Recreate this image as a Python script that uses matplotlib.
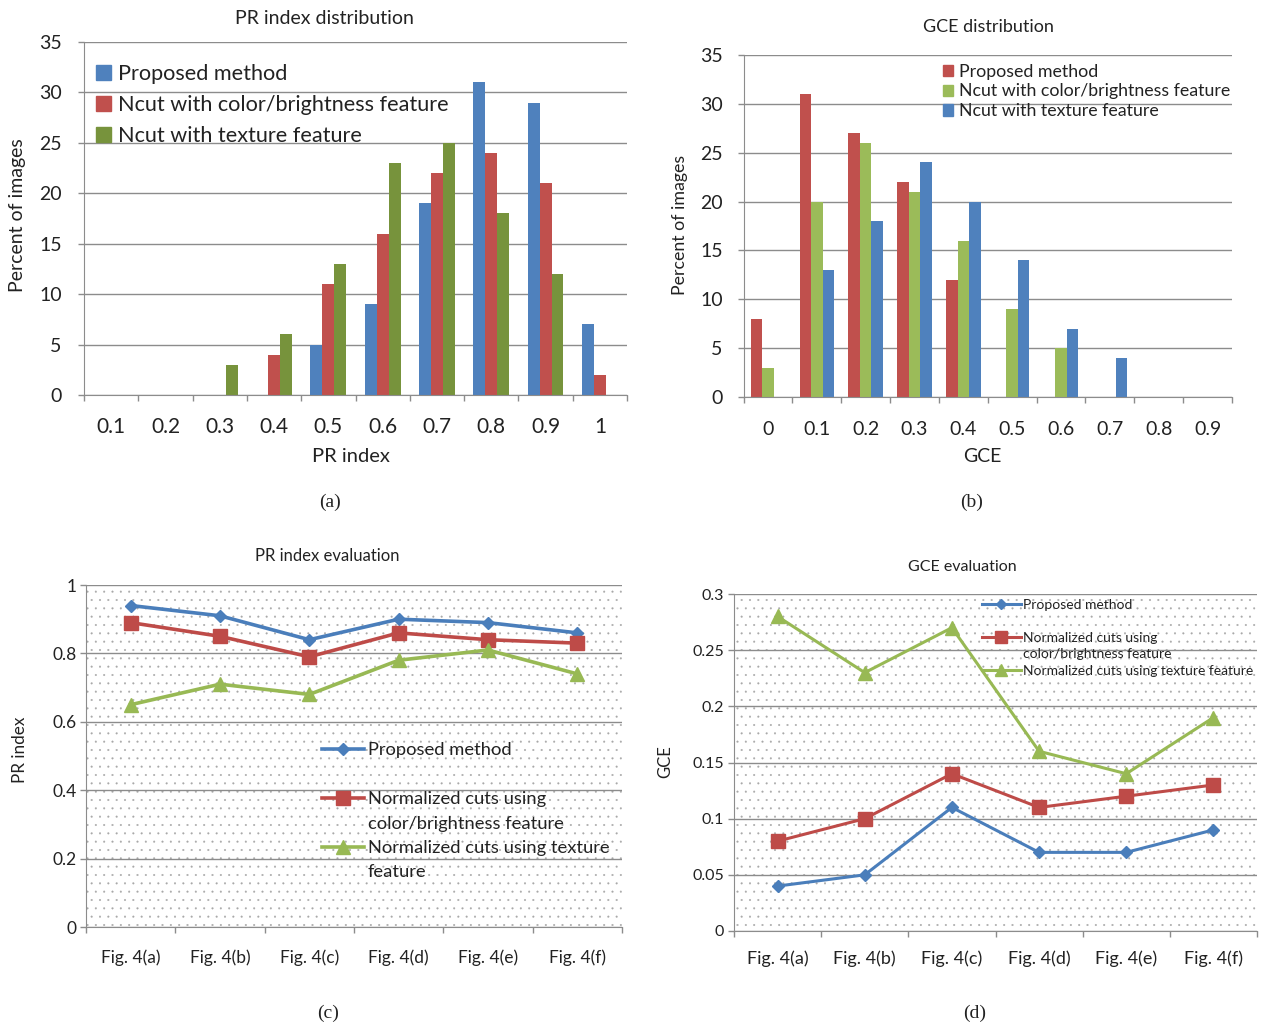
import numpy as np
import matplotlib.pyplot as plt
from matplotlib.lines import Line2D
from matplotlib.patches import Patch, Rectangle

plt.rcParams['font.family'] = ['Lato', 'DejaVu Sans']
plt.rcParams['hatch.linewidth'] = 0.25

# PR index distribution (percent of images per PR bin)
pr_bins = ["0.1", "0.2", "0.3", "0.4", "0.5", "0.6", "0.7", "0.8", "0.9", "1"]
pr_proposed = [0, 0, 0, 0, 5, 9, 19, 31, 29, 7]
pr_ncut_color = [0, 0, 0, 4, 11, 16, 22, 24, 21, 2]
pr_ncut_texture = [0, 0, 3, 6, 13, 23, 25, 18, 12, 0]

# GCE distribution
gce_bins = ["0", "0.1", "0.2", "0.3", "0.4", "0.5", "0.6", "0.7", "0.8", "0.9"]
gce_proposed = [8, 31, 27, 22, 12, 0, 0, 0, 0, 0]
gce_ncut_color = [3, 20, 26, 21, 16, 9, 5, 0, 0, 0]
gce_ncut_texture = [0, 13, 18, 24, 20, 14, 7, 4, 0, 0]

# per-image evaluation
images = ["Fig. 4(a)", "Fig. 4(b)", "Fig. 4(c)", "Fig. 4(d)", "Fig. 4(e)", "Fig. 4(f)"]
pr_eval_proposed = [0.94, 0.91, 0.84, 0.90, 0.89, 0.86]
pr_eval_color = [0.89, 0.85, 0.79, 0.86, 0.84, 0.83]
pr_eval_texture = [0.65, 0.71, 0.68, 0.78, 0.81, 0.74]
gce_eval_proposed = [0.04, 0.05, 0.11, 0.07, 0.07, 0.09]
gce_eval_color = [0.08, 0.10, 0.14, 0.11, 0.12, 0.13]
gce_eval_texture = [0.28, 0.23, 0.27, 0.16, 0.14, 0.19]

BLUE = "#4F81BD"
RED = "#C0504D"
GREEN = "#9BBB59"
OLIVE = "#77933C"
GRID = "#8c8c8c"
TXT = "#222222"

W, H = 1261, 1028
fig = plt.figure(figsize=(W / 100, H / 100), dpi=100)


def box(x0, y0, x1, y1):
    return [x0 / W, 1 - y1 / H, (x1 - x0) / W, (y1 - y0) / H]


def ftext(x, y, s, **kw):
    kw.setdefault("color", TXT)
    fig.text(x / W, 1 - y / H, s, ha="center", va="center", **kw)


def category_axes(ax, labels, ymax, ystep, xfs, yfs, xpad, ypad):
    n = len(labels)
    ax.set_xlim(-0.5, n - 0.5)
    ax.set_ylim(0, ymax)
    yt = np.arange(0, ymax + ystep / 2, ystep)
    ax.set_yticks(yt)
    ax.set_yticklabels([f"{v:g}" for v in yt])
    ax.set_xticks(np.arange(n))
    ax.set_xticklabels(labels)
    ax.set_xticks(np.arange(n + 1) - 0.5, minor=True)
    ax.tick_params(axis="x", which="major", length=0, pad=xpad, labelsize=xfs, labelcolor=TXT)
    ax.tick_params(axis="x", which="minor", length=4, width=1, color=GRID)
    ax.tick_params(axis="y", length=4, width=1, color=GRID, pad=ypad, labelsize=yfs, labelcolor=TXT)
    ax.grid(axis="y", color=GRID, linewidth=1)
    ax.set_axisbelow(True)
    ax.spines[["top", "right"]].set_visible(False)
    ax.spines[["left", "bottom"]].set_color(GRID)


def grouped_bars(ax, series, colors, width):
    x = np.arange(len(series[0]))
    for i, (vals, c) in enumerate(zip(series, colors)):
        ax.bar(x + (i - 1) * width, vals, width=width, color=c, linewidth=0)


def dotted_background(ax):
    ax.patch.set_visible(False)
    ax.add_patch(Rectangle((0, 0), 1, 1, transform=ax.transAxes, facecolor="white",
                           edgecolor="#a8a8a8", hatch="..", linewidth=0, zorder=0))


# (a) PR index distribution
ax1 = fig.add_axes(box(84, 42, 627, 395))
grouped_bars(ax1, [pr_proposed, pr_ncut_color, pr_ncut_texture], [BLUE, RED, OLIVE], 0.22)
category_axes(ax1, pr_bins, 35, 5, 15, 14, 16, 12)
ax1.legend([Patch(color=c) for c in (BLUE, RED, OLIVE)],
           ["Proposed method", "Ncut with color/brightness feature", "Ncut with texture feature"],
           loc="upper left", bbox_to_anchor=(0.022, 0.937), frameon=False, fontsize=15.6,
           handlelength=0.68, handleheight=0.68, handletextpad=0.35, labelspacing=0.5,
           borderpad=0, borderaxespad=0, labelcolor=TXT)
ftext(324, 18, "PR index distribution", fontsize=14)
ftext(351, 457, "PR index", fontsize=14.5)
ftext(18, 215, "Percent of images", fontsize=14, rotation=90)

# (b) GCE distribution
ax2 = fig.add_axes(box(743.5, 55, 1232, 397))
grouped_bars(ax2, [gce_proposed, gce_ncut_color, gce_ncut_texture], [RED, GREEN, BLUE], 0.235)
category_axes(ax2, gce_bins, 35, 5, 14, 14, 17, 11)
ax2.legend([Patch(color=c) for c in (RED, GREEN, BLUE)],
           ["Proposed method", "Ncut with color/brightness feature", "Ncut with texture feature"],
           loc="upper left", bbox_to_anchor=(0.408, 0.975), frameon=False, fontsize=12.8,
           handlelength=0.6, handleheight=0.6, handletextpad=0.3, labelspacing=0.22,
           borderpad=0, borderaxespad=0, labelcolor=TXT)
ftext(988, 27, "GCE distribution", fontsize=13)
ftext(982, 457, "GCE", fontsize=14)
ftext(680, 225, "Percent of images", fontsize=12.8, rotation=90)

# (c) PR index evaluation
ax3 = fig.add_axes(box(86, 585, 622, 927))
dotted_background(ax3)
x = np.arange(len(images))
ax3.plot(x, pr_eval_proposed, color="#4A7EBB", lw=2.6, marker="D", ms=6.5)
ax3.plot(x, pr_eval_color, color="#BE4B48", lw=2.6, marker="s", ms=10.5)
ax3.plot(x, pr_eval_texture, color="#98B954", lw=2.6, marker="^", ms=10.5)
category_axes(ax3, images, 1.0, 0.2, 12.5, 12.5, 16, 3)
blank = Line2D([], [], linestyle="none")
ax3.legend([Line2D([], [], color="#4A7EBB", lw=2.6, marker="D", ms=6.5), blank,
            Line2D([], [], color="#BE4B48", lw=2.6, marker="s", ms=10.5), blank,
            Line2D([], [], color="#98B954", lw=2.6, marker="^", ms=10.5), blank],
           ["Proposed method", " ", "Normalized cuts using", "color/brightness feature",
            "Normalized cuts using texture", "feature"],
           loc="upper left", bbox_to_anchor=(0.44, 0.54), frameon=False, fontsize=13.2,
           handlelength=2.3, handletextpad=0.22, labelspacing=0.46,
           borderpad=0, borderaxespad=0, labelcolor=TXT)
ftext(327, 556, "PR index evaluation", fontsize=12)
ftext(20, 750, "PR index", fontsize=12.3, rotation=90)

# (d) GCE evaluation
ax4 = fig.add_axes(box(734, 594, 1257, 931))
dotted_background(ax4)
ax4.plot(x, gce_eval_proposed, color="#4A7EBB", lw=2.2, marker="D", ms=6.5)
ax4.plot(x, gce_eval_color, color="#BE4B48", lw=2.2, marker="s", ms=10)
ax4.plot(x, gce_eval_texture, color="#98B954", lw=2.2, marker="^", ms=10)
category_axes(ax4, images, 0.3, 0.05, 13, 11.5, 14, 3)
ax4.legend([Line2D([], [], color="#4A7EBB", lw=2.2, marker="D", ms=5), blank,
            Line2D([], [], color="#BE4B48", lw=2.2, marker="s", ms=8), blank,
            Line2D([], [], color="#98B954", lw=2.2, marker="^", ms=8)],
           ["Proposed method", " ", "Normalized cuts using", "color/brightness feature",
            "Normalized cuts using texture feature"],
           loc="upper left", bbox_to_anchor=(0.474, 0.985), frameon=False, fontsize=10,
           handlelength=2.8, handletextpad=0.15, labelspacing=0.32,
           borderpad=0, borderaxespad=0, labelcolor=TXT)
ftext(962, 567, "GCE evaluation", fontsize=11.5)
ftext(665, 762, "GCE", fontsize=12, rotation=90)

# panel captions
for cx, cy, s in [(330, 502, "(a)"), (972, 502, "(b)"), (328, 1013, "(c)"), (975, 1013, "(d)")]:
    ftext(cx, cy, s, fontsize=14, family="Liberation Serif")

fig.savefig("out.png", dpi=100)
